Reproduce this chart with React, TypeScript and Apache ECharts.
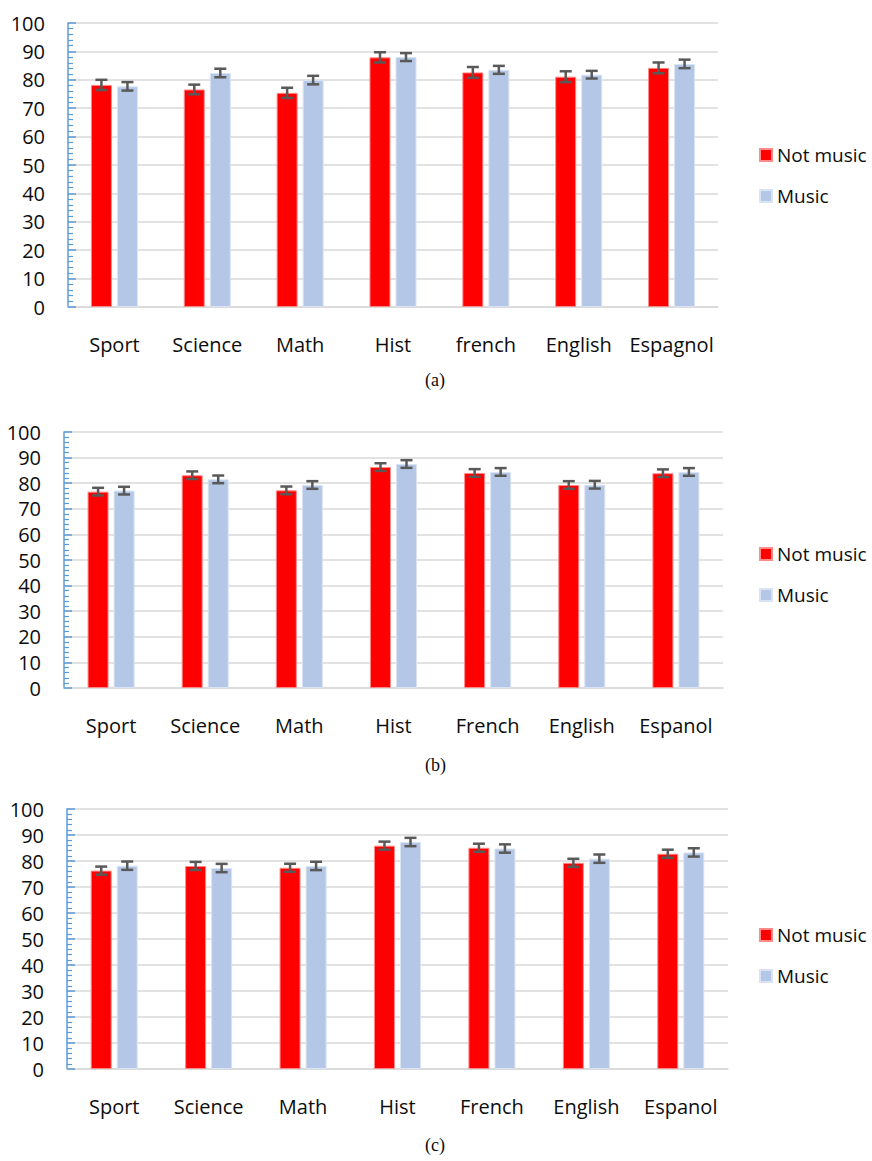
import React, { useEffect, useRef } from "react";
import * as echarts from "echarts";

const catsA = ["Sport", "Science", "Math", "Hist", "french", "English", "Espagnol"];
const catsBC = ["Sport", "Science", "Math", "Hist", "French", "English", "Espanol"];
const yTicks = [0, 10, 20, 30, 40, 50, 60, 70, 80, 90, 100];

const notMusicA = [78.2, 76.6, 75.4, 87.9, 82.6, 81.1, 84.2];
const musicA = [77.7, 82.4, 79.9, 88.0, 83.5, 81.8, 85.6];
const notMusicErrA = [1.8, 1.7, 1.8, 1.8, 1.9, 1.9, 1.9];
const musicErrA = [1.5, 1.5, 1.5, 1.4, 1.4, 1.35, 1.5];

const notMusicB = [76.7, 83.1, 77.2, 86.3, 84.0, 79.3, 83.9];
const musicB = [77.1, 81.5, 79.3, 87.5, 84.4, 79.4, 84.4];
const notMusicErrB = [1.5, 1.5, 1.5, 1.5, 1.5, 1.5, 1.5];
const musicErrB = [1.5, 1.5, 1.5, 1.5, 1.5, 1.5, 1.5];

const notMusicC = [76.3, 78.1, 77.4, 85.9, 85.1, 79.3, 82.8];
const musicC = [78.2, 77.3, 78.1, 87.3, 84.8, 80.9, 83.3];
const notMusicErrC = [1.55, 1.55, 1.55, 1.55, 1.55, 1.55, 1.55];
const musicErrC = [1.6, 1.6, 1.6, 1.6, 1.6, 1.6, 1.6];

const panelLabels = ["(a)", "(b)", "(c)"];
const seriesNames = ["Not music", "Music"];

const RED = "#ff0000";
const BLUE = "#b4c7e7";
const FONT = "Open Sans";
const TXT = "#0d0d0d";

const panels = [
  { cats: catsA, nm: notMusicA, m: musicA, nmE: notMusicErrA, mE: musicErrA,
    grid: { left: 68, top: 23, width: 650, height: 284 }, legendTop: 138, labelY: 382 },
  { cats: catsBC, nm: notMusicB, m: musicB, nmE: notMusicErrB, mE: musicErrB,
    grid: { left: 64, top: 432, width: 659, height: 256 }, legendTop: 537, labelY: 767 },
  { cats: catsBC, nm: notMusicC, m: musicC, nmE: notMusicErrC, mE: musicErrC,
    grid: { left: 67, top: 809, width: 661, height: 260 }, legendTop: 918, labelY: 1147 },
];

function errSeries(name: string, vals: number[], errs: number[], idx: number, offset: number) {
  return {
    type: "custom",
    name: name + " err",
    xAxisIndex: idx,
    yAxisIndex: idx,
    z: 10,
    silent: true,
    encode: { x: 0, y: 1 },
    data: vals.map((v, i) => [i, v, errs[i]]),
    renderItem: (params: any, api: any) => {
      const x = api.value(0);
      const v = api.value(1);
      const e = api.value(2);
      const top = api.coord([x, v + e]);
      const bot = api.coord([x, v - e]);
      const cx = top[0] + offset;
      const cap = 6;
      const style = { stroke: "#595959", lineWidth: 2.5 };
      return {
        type: "group",
        children: [
          { type: "line", shape: { x1: cx, y1: top[1], x2: cx, y2: bot[1] }, style },
          { type: "line", shape: { x1: cx - cap, y1: top[1], x2: cx + cap, y2: top[1] }, style },
          { type: "line", shape: { x1: cx - cap, y1: bot[1], x2: cx + cap, y2: bot[1] }, style },
        ],
      };
    },
  };
}

export default function App() {
  const ref = useRef<HTMLDivElement>(null);
  useEffect(() => {
    if (!ref.current) return;
    const chart = echarts.init(ref.current, null, { renderer: "svg" });
    const grids: any[] = [];
    const xAxes: any[] = [];
    const yAxes: any[] = [];
    const legends: any[] = [];
    const series: any[] = [];
    const graphics: any[] = [];
    panels.forEach((p, idx) => {
      grids.push({ ...p.grid, containLabel: false });
      xAxes.push({
        type: "category",
        gridIndex: idx,
        data: p.cats,
        axisLine: { show: true, lineStyle: { color: "#d9d9d9", width: 1.5 } },
        axisTick: { show: false },
        axisLabel: { interval: 0, margin: 27, fontFamily: FONT, fontSize: 20, color: TXT },
      });
      yAxes.push({
        type: "value",
        gridIndex: idx,
        min: yTicks[0],
        max: yTicks[yTicks.length - 1],
        interval: 10,
        axisLine: { show: true, lineStyle: { color: "#5b9bd5", width: 1.5 } },
        axisTick: { show: true, inside: true, length: 8, lineStyle: { color: "#5b9bd5", width: 1.5 } },
        minorTick: { show: true, splitNumber: 5, length: 5, lineStyle: { color: "#5b9bd5", width: 1.2 } },
        splitLine: { show: true, lineStyle: { color: "#d9d9d9", width: 1.5 } },
        axisLabel: { margin: 23, fontFamily: FONT, fontSize: 20, color: TXT },
      });
      legends.push({
        data: seriesNames.map((n) => ({ name: n })),
        orient: "vertical",
        left: 754,
        top: p.legendTop,
        icon: "rect",
        itemWidth: 12,
        itemHeight: 12,
        itemGap: 17,
        selectedMode: false,
        textStyle: { fontFamily: FONT, fontSize: 19, color: TXT, lineHeight: 24, padding: [0, 0, 0, 0] },
      });
      series.push({
        type: "bar",
        name: seriesNames[0],
        xAxisIndex: idx,
        yAxisIndex: idx,
        data: p.nm,
        barWidth: 21,
        barGap: "24%",
        itemStyle: { color: RED, borderColor: "#ff8a8a", borderWidth: 1 },
      });
      series.push({
        type: "bar",
        name: seriesNames[1],
        xAxisIndex: idx,
        yAxisIndex: idx,
        data: p.m,
        barWidth: 21,
        barGap: "24%",
        itemStyle: { color: BLUE, borderColor: "#dae3f3", borderWidth: 1 },
      });
      series.push(errSeries(seriesNames[0], p.nm, p.nmE, idx, -13));
      series.push(errSeries(seriesNames[1], p.m, p.mE, idx, 13));
      graphics.push({
        type: "text",
        left: 425,
        top: p.labelY - 11,
        style: { text: panelLabels[idx], fontFamily: "Liberation Serif", fontSize: 18, fill: TXT },
      });
    });
    chart.setOption({
      animation: false,
      backgroundColor: "#ffffff",
      grid: grids,
      xAxis: xAxes,
      yAxis: yAxes,
      legend: legends,
      series,
      graphic: graphics,
    });
    return () => chart.dispose();
  }, []);
  return (
    <div
      ref={ref}
      style={{ position: "fixed", left: 0, top: 0, width: 872, height: 1161, background: "#fff" }}
    />
  );
}
